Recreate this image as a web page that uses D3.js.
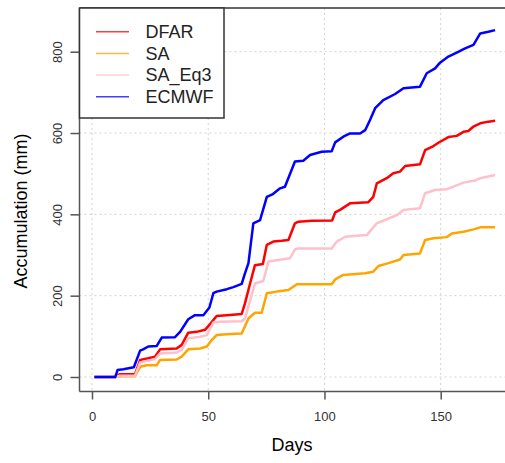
<!DOCTYPE html>
<html>
<head>
<meta charset="utf-8">
<script src="https://cdn.jsdelivr.net/npm/d3@7"></script>
<style>
  body { margin: 0; background: #fff; }
  text { font-family: "Liberation Sans", Arial, sans-serif; }
</style>
</head>
<body>
<svg id="grafico" width="505" height="463"></svg>
<script>
// Datos (dia, acumulado en mm)
var ecmwfDias = [1, 10, 11, 13.5, 18, 20.7, 22, 24.2, 27.8, 30, 35.7, 37.9, 41.4, 44.3, 47.9, 50.5, 52.2, 53.6, 58, 60.8, 64.4, 65.8, 67.3, 69.4, 72.3, 75.2, 77.6, 80.9, 83, 87.3, 90.9, 93.8, 98.8, 103.1, 104.6, 108.1, 111, 115.3, 117.5, 119.6, 121.8, 125.3, 130.4, 134, 141.1, 144, 147.6, 149.7, 153.3, 156.9, 160.5, 164.1, 167, 170.5, 173.4];
var ecmwfMm   = [0, 0, 17, 19, 24, 65, 68, 75, 76, 97, 98, 111, 142, 152, 152, 171, 206, 210, 216, 221, 229, 255, 280, 378, 386, 443, 449, 464, 468, 530, 532, 546, 554, 555, 577, 591, 599, 599, 607, 632, 661, 681, 696, 710, 714, 747, 759, 773, 788, 798, 808, 817, 845, 849, 853];

var dfarDias = [1, 10, 12, 18.5, 20.7, 24.2, 27.1, 29.3, 36.4, 38.6, 41.4, 45, 48.6, 50.8, 53.6, 58, 64.4, 65.8, 68, 70.1, 73.5, 75.2, 78, 81.6, 84.5, 87.3, 88.8, 94.5, 103.3, 104.6, 106.7, 111, 118.9, 121, 122.5, 126.8, 129.6, 132.5, 134.7, 141.1, 143.3, 146.9, 149, 153.3, 156.9, 159.8, 161.9, 164.1, 167, 170.5, 173.4];
var dfarMm   = [0, 0, 7, 7, 42, 46, 50, 68, 70, 79, 109, 111, 116, 130, 150, 152, 155, 181, 230, 275, 278, 325, 333, 335, 337, 378, 382, 384, 385, 405, 411, 427, 430, 443, 476, 489, 501, 505, 519, 523, 558, 568, 576, 590, 593, 603, 605, 616, 624, 628, 630];

var saEq3Dias = [1, 10, 12, 18.5, 20.7, 24, 27.1, 29.3, 36.4, 38.6, 41.4, 46.5, 49.4, 52.2, 55, 64.4, 65.8, 68.7, 70.1, 73.7, 75.9, 80.2, 85.2, 87.3, 88.8, 103.1, 105.3, 108.9, 118.2, 122.5, 126.8, 131.1, 134, 141.1, 143.3, 147.6, 152.6, 155.5, 159.8, 164.8, 167, 173.4];
var saEq3Mm   = [0, 0, 3, 3, 36, 40, 44, 58, 60, 67, 95, 99, 103, 134, 136, 137, 144, 202, 230, 236, 284, 288, 292, 314, 316, 316, 333, 345, 349, 378, 388, 398, 411, 415, 452, 460, 462, 468, 478, 483, 489, 497];

var saDias = [1, 10, 12, 18.5, 20.7, 23.5, 27.8, 29.3, 36.4, 38.6, 41.4, 46.5, 49.4, 51.5, 53.6, 58, 64.4, 67.3, 70.1, 73, 75.2, 79.5, 84.5, 88.1, 103.1, 104.6, 108.1, 117.5, 121, 123.2, 127.5, 132.5, 134, 141.1, 143.3, 146.9, 152.6, 154.8, 159.8, 164.1, 167, 173.4];
var saMm   = [0, 0, 2, 2, 25, 29, 29, 42, 43, 50, 68, 70, 75, 91, 103, 105, 107, 144, 158, 158, 206, 210, 214, 228, 228, 240, 251, 255, 259, 273, 280, 289, 300, 304, 337, 341, 344, 353, 357, 363, 368, 368];

var nombres = ["DFAR", "SA", "SA_Eq3", "ECMWF"];
var colores = ["red", "orange", "pink", "blue"];
var ticksX = [0, 50, 100, 150];
var ticksY = [0, 200, 400, 600, 800];

var series = [
    {nombre: nombres[0], color: colores[0], dias: dfarDias, mm: dfarMm},
    {nombre: nombres[1], color: colores[1], dias: saDias, mm: saMm},
    {nombre: nombres[2], color: colores[2], dias: saEq3Dias, mm: saEq3Mm},
    {nombre: nombres[3], color: colores[3], dias: ecmwfDias, mm: ecmwfMm}
];

var svg = d3.select("#grafico");

// Limites del area de dibujo
var izq = 79.5, arriba = 8, abajo = 391.5, der = 520;

// Escalas
var x = d3.scaleLinear().domain([0, 150]).range([92, 440.7]);
var y = d3.scaleLinear().domain([0, 800]).range([377, 51.7]);

// Rejilla punteada
svg.append("g").selectAll("line")
    .data(ticksX)
    .enter()
    .append("line")
    .attr("x1", function(d) { return x(d); })
    .attr("x2", function(d) { return x(d); })
    .attr("y1", arriba)
    .attr("y2", abajo)
    .attr("stroke", "#d3d3d3")
    .attr("stroke-dasharray", "2,3");

svg.append("g").selectAll("line")
    .data(ticksY)
    .enter()
    .append("line")
    .attr("x1", izq)
    .attr("x2", der)
    .attr("y1", function(d) { return y(d); })
    .attr("y2", function(d) { return y(d); })
    .attr("stroke", "#d3d3d3")
    .attr("stroke-dasharray", "2,3");

// Lineas de cada serie
var linea = d3.line()
    .x(function(d) { return x(d[0]); })
    .y(function(d) { return y(d[1]); });

svg.append("g").selectAll("path")
    .data(series)
    .enter()
    .append("path")
    .attr("d", function(s) { return linea(d3.zip(s.dias, s.mm)); })
    .attr("fill", "none")
    .attr("stroke", function(s) { return s.color; })
    .attr("stroke-width", 2.5)
    .attr("stroke-linejoin", "round");

// Eje inferior
var ejeX = svg.append("g")
    .attr("transform", "translate(0," + abajo + ")")
    .call(d3.axisBottom(x).tickValues(ticksX).tickSize(8).tickPadding(12).tickSizeOuter(0));
ejeX.select(".domain").remove();
ejeX.selectAll("line").attr("stroke", "#555").attr("stroke-width", 1.5);
ejeX.selectAll("text").style("font-size", "13px").attr("fill", "#333");

// Eje izquierdo
var ejeY = svg.append("g")
    .attr("transform", "translate(" + izq + ",0)")
    .call(d3.axisLeft(y).tickValues(ticksY).tickSize(9).tickSizeOuter(0));
ejeY.select(".domain").remove();
ejeY.selectAll("line").attr("stroke", "#555").attr("stroke-width", 1.5);
ejeY.selectAll("text")
    .attr("x", 0)
    .attr("y", -22)
    .attr("dy", "0.35em")
    .attr("transform", "rotate(-90)")
    .style("text-anchor", "middle")
    .style("font-size", "13px")
    .attr("fill", "#333");

// Marco
svg.append("line").attr("x1", izq).attr("x2", izq).attr("y1", arriba).attr("y2", abajo)
    .attr("stroke", "#555").attr("stroke-width", 1.5);
svg.append("line").attr("x1", izq).attr("x2", der).attr("y1", abajo).attr("y2", abajo)
    .attr("stroke", "#555").attr("stroke-width", 1.5);
svg.append("line").attr("x1", izq).attr("x2", der).attr("y1", arriba).attr("y2", arriba)
    .attr("stroke", "#333").attr("stroke-width", 1.5);

// Titulos de los ejes
svg.append("text")
    .attr("x", 292)
    .attr("y", 445)
    .attr("dy", "0.35em")
    .style("text-anchor", "middle")
    .style("font-size", "18px")
    .text("Days");

svg.append("text")
    .attr("transform", "translate(21,211) rotate(-90)")
    .attr("dy", "0.35em")
    .style("text-anchor", "middle")
    .style("font-size", "18px")
    .text("Accumulation (mm)");

// Leyenda
var leyenda = svg.append("g");
leyenda.append("rect")
    .attr("x", izq)
    .attr("y", arriba)
    .attr("width", 144.5)
    .attr("height", 110)
    .attr("fill", "white")
    .attr("stroke", "#333")
    .attr("stroke-width", 1.5);

var filas = leyenda.selectAll(".fila")
    .data(series)
    .enter()
    .append("g")
    .attr("class", "fila")
    .attr("transform", function(d, i) { return "translate(0," + (31.7 + i * 21.7) + ")"; });

filas.append("line")
    .attr("x1", 96)
    .attr("x2", 129)
    .attr("stroke", function(d) { return d.color; })
    .attr("stroke-width", 1.5)
    .attr("opacity", 0.75);

filas.append("text")
    .attr("x", 145.5)
    .attr("dy", "0.35em")
    .style("font-size", "18px")
    .attr("fill", "#222")
    .text(function(d) { return d.nombre; });
</script>
</body>
</html>
